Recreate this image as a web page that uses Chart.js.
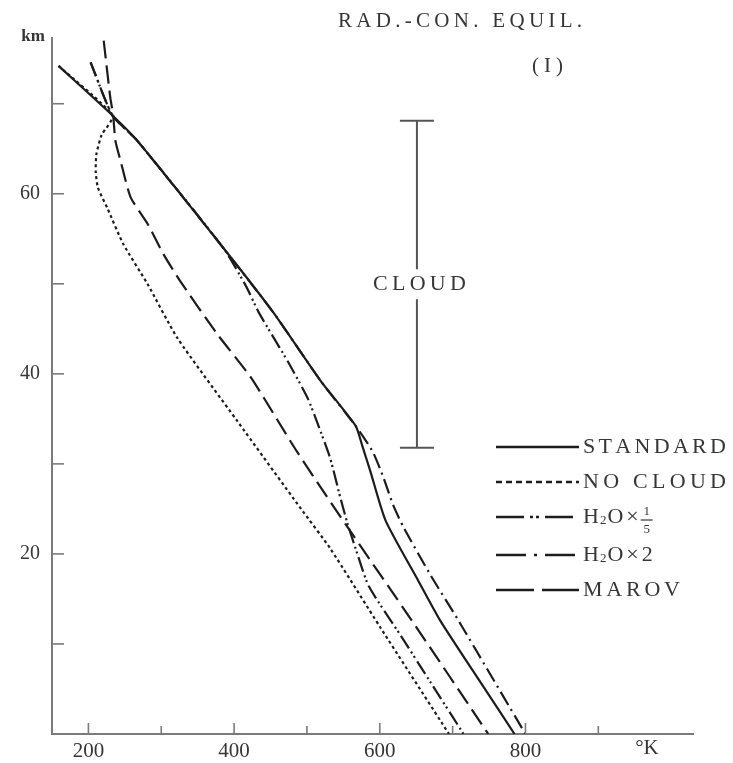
<!DOCTYPE html>
<html>
<head>
<meta charset="utf-8">
<script src="https://cdn.jsdelivr.net/npm/chart.js@4.4.1/dist/chart.umd.min.js"></script>
<style>
html,body{margin:0;padding:0;background:#fff;}
#wrap{position:relative;width:733px;height:763px;}
</style>
</head>
<body>
<div id="wrap"><canvas id="c" width="733" height="763"></canvas></div>
<script>
// ---------- data (temperature K, altitude km) ----------
const xTickValues = [200, 300, 400, 500, 600, 700, 800, 900];
const xTickLabels = ['200', '', '400', '', '600', '', '800', ''];
const yTickValues = [10, 20, 30, 40, 50, 60, 70];
const yTickLabels = ['', '20', '', '40', '', '60', ''];

const seriesNames = ['STANDARD', 'NO CLOUD', 'H₂O×1/5', 'H₂O×2', 'MAROV'];

const standardT = [159, 233, 267, 385, 454, 519, 567, 576, 587, 608, 653, 683, 737, 785];
const standardZ = [74.2, 68.7, 65.9, 54.0, 46.8, 39.2, 34.2, 32.0, 29.2, 23.7, 17.0, 12.6, 5.9, 0];

const noCloudT = [159, 233, 218, 211, 210, 213, 226, 248, 281, 322, 404, 491, 532, 601, 695];
const noCloudZ = [74.2, 68.7, 66.5, 64.4, 62.5, 60.7, 58.4, 54.4, 50.0, 44.0, 34.8, 25.1, 20.6, 11.8, 0];

const h2oFifthT = [203, 233, 267, 385, 416, 434, 475, 501, 516, 532, 546, 556, 568, 585, 629, 670, 715];
const h2oFifthZ = [74.6, 68.7, 65.9, 54.0, 49.8, 46.8, 41.2, 37.3, 34.2, 30.6, 26.2, 23.3, 20.3, 16.4, 10.9, 5.7, 0];

const h2oDoubleT = [203, 233, 267, 385, 454, 519, 567, 590, 604, 619, 633, 670, 708, 800];
const h2oDoubleZ = [74.6, 68.7, 65.9, 54.0, 46.8, 39.2, 34.2, 31.4, 28.7, 25.3, 22.9, 17.6, 12.6, 0];

const marovT = [221, 230, 234, 237, 244, 258, 281, 303, 326, 377, 423, 486, 553, 644, 749];
const marovZ = [77.0, 70.7, 68.7, 65.9, 63.7, 59.6, 56.7, 53.3, 50.3, 44.4, 39.6, 31.4, 23.3, 12.6, 0];

const cloudT = 651;
const cloudBaseZ = 31.8;
const cloudTopZ = 68.1;

// ---------- styles ----------
const ink = '#1c1c1c';
const textInk = '#363636';
const axisInk = '#7a7a7a';
const serif = '"Liberation Serif", "DejaVu Serif", serif';

function pts(T, Z) { return T.map((t, i) => ({ x: t, y: Z[i] })); }

const styles = [
  { dash: [], legendDash: [] },
  { dash: [3, 3], legendDash: [6, 4] },
  { dash: [15, 4, 2, 3, 2, 4], legendDash: [28, 6, 3, 3, 3, 6] },
  { dash: [15, 5, 2, 5], legendDash: [30, 8, 3, 8] },
  { dash: [18, 7], legendDash: [38, 8] }
];
const seriesData = [
  pts(standardT, standardZ),
  pts(noCloudT, noCloudZ),
  pts(h2oFifthT, h2oFifthZ),
  pts(h2oDoubleT, h2oDoubleZ),
  pts(marovT, marovZ)
];

const datasets = seriesNames.map((name, i) => ({
  label: name,
  data: seriesData[i],
  showLine: true,
  borderColor: ink,
  borderWidth: 2.2,
  borderDash: styles[i].dash,
  pointRadius: 0,
  tension: 0.2,
  fill: false
}));

function spaced(ctx, text, x, y, width) {
  const chars = [...text];
  const w = chars.map(c => ctx.measureText(c).width);
  const total = w.reduce((a, b) => a + b, 0);
  const gap = chars.length > 1 ? (width - total) / (chars.length - 1) : 0;
  let cx = x;
  chars.forEach((c, i) => { ctx.fillText(c, cx, y); cx += w[i] + gap; });
}

function drawH2O(ctx, x, y) {
  ctx.font = '22px ' + serif;
  ctx.fillText('H', x, y); x += ctx.measureText('H').width + 1;
  ctx.font = '13px ' + serif;
  ctx.fillText('2', x, y + 4); x += ctx.measureText('2').width + 1;
  ctx.font = '22px ' + serif;
  ctx.fillText('O', x, y); x += ctx.measureText('O').width + 3;
  ctx.fillText('×', x, y); x += ctx.measureText('×').width + 3;
  return x;
}

const decor = {
  id: 'decor',
  afterDraw(chart) {
    const ctx = chart.ctx;
    const xs = chart.scales.x, ys = chart.scales.y;
    const area = chart.chartArea;
    ctx.save();
    // inward tick marks
    ctx.strokeStyle = axisInk;
    ctx.lineWidth = 1.6;
    xTickValues.forEach((v, i) => {
      const px = xs.getPixelForValue(v);
      const len = xTickLabels[i] ? 11 : 8;
      ctx.beginPath(); ctx.moveTo(px, area.bottom); ctx.lineTo(px, area.bottom - len); ctx.stroke();
    });
    yTickValues.forEach(v => {
      const py = ys.getPixelForValue(v);
      ctx.beginPath(); ctx.moveTo(area.left, py); ctx.lineTo(area.left + 12, py); ctx.stroke();
    });

    // cloud bar
    const cx = xs.getPixelForValue(cloudT);
    const yb = ys.getPixelForValue(cloudBaseZ);
    const yt = ys.getPixelForValue(cloudTopZ);
    ctx.strokeStyle = '#555';
    ctx.lineWidth = 2;
    ctx.beginPath();
    ctx.moveTo(cx, yb); ctx.lineTo(cx, yt);
    ctx.moveTo(cx - 17, yb); ctx.lineTo(cx + 17, yb);
    ctx.moveTo(cx - 17, yt); ctx.lineTo(cx + 17, yt);
    ctx.stroke();

    // texts
    ctx.textAlign = 'left';
    ctx.textBaseline = 'middle';
    ctx.font = '22px ' + serif;
    const cloudLabelY = ys.getPixelForValue((cloudBaseZ + cloudTopZ) / 2);
    ctx.fillStyle = '#fff';
    ctx.fillRect(cx - 49, cloudLabelY - 15, 98, 30);
    ctx.fillStyle = textInk;
    spaced(ctx, 'CLOUD', cx - 44, cloudLabelY, 93);

    ctx.font = '21px ' + serif;
    spaced(ctx, 'RAD.-CON. EQUIL.', 338, 21, 244);
    spaced(ctx, '(I)', 532, 66, 31);

    ctx.font = 'bold 17px ' + serif;
    ctx.textAlign = 'center';
    ctx.fillText('km', 33, 37);
    ctx.font = '21px ' + serif;
    ctx.fillText('°K', 647, 748);
    ctx.textAlign = 'left';

    // legend
    const rowY = [447, 482, 517, 555, 590];
    const lineX0 = 496, lineX1 = 579, textX = 583;
    const textW = [143, 143, 0, 0, 97];
    datasets.forEach((ds, i) => {
      const yy = rowY[i];
      ctx.strokeStyle = ink;
      ctx.lineWidth = 2.6;
      ctx.setLineDash(styles[i].legendDash);
      ctx.beginPath(); ctx.moveTo(lineX0, yy); ctx.lineTo(lineX1, yy); ctx.stroke();
      ctx.setLineDash([]);
      ctx.fillStyle = textInk;
      ctx.font = '22px ' + serif;
      if (i === 2) {
        const fx = drawH2O(ctx, textX, yy) + 5;
        ctx.font = '13px ' + serif;
        ctx.textAlign = 'center';
        ctx.fillText('1', fx, yy - 5);
        ctx.fillText('5', fx, yy + 13);
        ctx.textAlign = 'left';
        ctx.strokeStyle = textInk;
        ctx.lineWidth = 1.2;
        ctx.beginPath(); ctx.moveTo(fx - 6, yy + 3); ctx.lineTo(fx + 6, yy + 3); ctx.stroke();
      } else if (i === 3) {
        const nx = drawH2O(ctx, textX, yy);
        ctx.font = '22px ' + serif;
        ctx.fillText('2', nx, yy);
      } else {
        spaced(ctx, ds.label, textX, yy, textW[i]);
      }
    });
    ctx.restore();
  }
};

new Chart(document.getElementById('c'), {
  type: 'scatter',
  data: { datasets },
  options: {
    responsive: false,
    animation: false,
    devicePixelRatio: 1,
    layout: { padding: { top: 38, right: 40, left: 0, bottom: 0 } },
    plugins: { legend: { display: false }, title: { display: false }, tooltip: { enabled: false } },
    scales: {
      x: {
        type: 'linear',
        min: 150,
        max: 1030,
        afterBuildTicks: s => { s.ticks = xTickValues.map(v => ({ value: v })); },
        afterFit: s => { s.height = 29; },
        grid: { display: false },
        border: { display: true, color: axisInk, width: 2 },
        ticks: {
          autoSkip: false,
          maxRotation: 0,
          padding: -3,
          color: textInk,
          font: { family: serif, size: 21 },
          callback: (v) => { const i = xTickValues.indexOf(v); return i >= 0 ? xTickLabels[i] : ''; }
        }
      },
      y: {
        type: 'linear',
        min: 0,
        max: 77.3,
        afterBuildTicks: s => { s.ticks = yTickValues.map(v => ({ value: v })); },
        afterFit: s => { s.width = 52; },
        grid: { display: false },
        border: { display: true, color: axisInk, width: 2 },
        ticks: {
          autoSkip: false,
          padding: 4,
          color: textInk,
          font: { family: serif, size: 20 },
          callback: (v) => { const i = yTickValues.indexOf(v); return i >= 0 ? yTickLabels[i] : ''; }
        }
      }
    }
  },
  plugins: [decor]
});
</script>
</body>
</html>
